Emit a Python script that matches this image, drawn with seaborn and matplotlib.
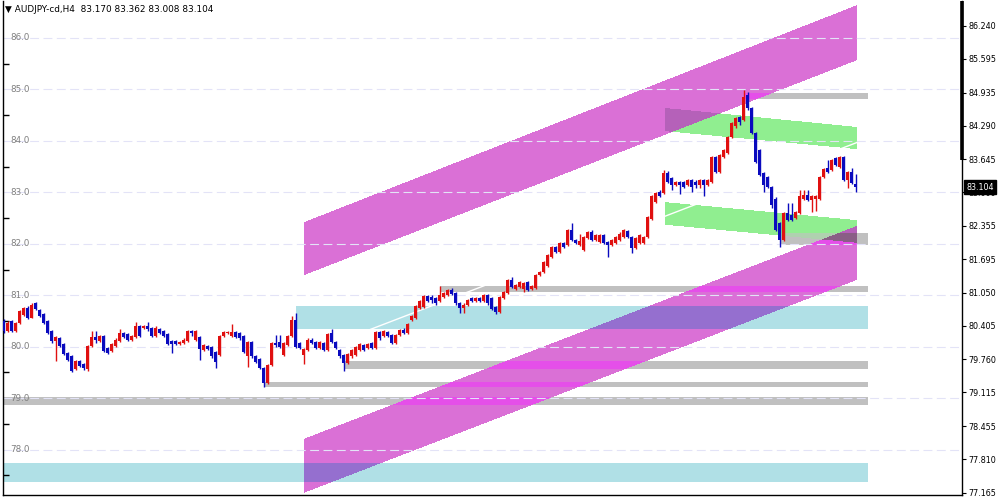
import numpy as np
import pandas as pd
import seaborn as sns
import matplotlib.pyplot as plt
import matplotlib.transforms as mtransforms
from matplotlib.path import Path

# H4 candles, bar index 0..213
opens = [
    80.50, 80.31, 80.50, 80.31, 80.47, 80.62, 80.76, 80.56, 80.84, 80.71,
    80.63, 80.50, 80.31, 80.11, 80.16, 80.05, 79.88, 79.82, 79.56, 79.72,
    79.66, 79.56, 80.01, 80.18, 80.11, 80.21, 79.98, 79.92, 80.01, 80.11,
    80.27, 80.24, 80.14, 80.18, 80.40, 80.37, 80.40, 80.37, 80.21, 80.34,
    80.30, 80.24, 80.11, 80.11, 80.05, 80.08, 80.11, 80.31, 80.14, 80.18,
    79.94, 80.02, 80.00, 79.90, 79.84, 80.20, 80.26, 80.20, 80.29, 80.27,
    80.20, 79.81, 80.10, 79.81, 79.77, 79.58, 79.29, 79.64, 80.08, 80.10,
    79.84, 80.03, 80.20, 80.51, 80.07, 79.84, 79.94, 80.14, 80.10, 79.97,
    80.07, 79.94, 80.26, 80.10, 79.94, 79.84, 79.68, 79.81, 79.84, 79.94,
    80.03, 79.97, 80.08, 79.97, 80.29, 80.20, 80.29, 80.23, 80.07, 80.23,
    80.32, 80.26, 80.52, 80.55, 80.75, 80.77, 80.99, 80.97, 80.94, 80.88,
    80.97, 81.00, 81.11, 81.05, 80.84, 80.75, 80.81, 80.94, 80.88, 80.94,
    80.88, 81.00, 80.94, 80.78, 80.68, 80.94, 81.04, 81.30, 81.13, 81.17,
    81.13, 81.26, 81.12, 81.15, 81.39, 81.46, 81.56, 81.75, 81.94, 81.85,
    82.01, 81.98, 82.27, 82.07, 81.98, 81.88, 82.11, 82.22, 82.07, 82.04,
    82.17, 82.04, 81.98, 82.01, 82.07, 82.14, 82.24, 82.14, 81.91, 82.01,
    82.01, 82.14, 82.49, 82.82, 83.01, 82.98, 83.37, 83.27, 83.14, 83.21,
    83.21, 83.14, 83.24, 83.21, 83.14, 83.24, 83.14, 83.21, 83.69, 83.40,
    83.69, 83.76, 84.08, 84.28, 84.47, 84.41, 84.89, 84.63, 84.15, 83.82,
    83.37, 83.30, 83.11, 82.88, 82.40, 82.07, 82.59, 82.56, 82.50, 82.59,
    82.88, 82.94, 82.85, 82.88, 82.88, 83.30, 83.48, 83.43, 83.66, 83.50,
    83.69, 83.24, 83.40, 83.170,
]
closes = [
    80.31, 80.47, 80.31, 80.47, 80.69, 80.76, 80.56, 80.82, 80.73, 80.60,
    80.47, 80.27, 80.11, 80.18, 80.01, 79.85, 79.75, 79.53, 79.72, 79.62,
    79.59, 80.01, 80.18, 80.14, 80.21, 79.92, 79.88, 80.05, 80.14, 80.27,
    80.18, 80.14, 80.21, 80.40, 80.21, 80.40, 80.34, 80.21, 80.37, 80.27,
    80.21, 80.05, 80.05, 80.05, 80.09, 80.14, 80.31, 80.27, 80.31, 79.95,
    80.03, 79.95, 79.81, 79.71, 80.20, 80.29, 80.29, 80.29, 80.18, 80.16,
    79.90, 80.10, 79.81, 79.71, 79.58, 79.29, 79.64, 80.07, 80.03, 80.00,
    80.07, 80.20, 80.51, 80.00, 79.97, 79.95, 80.14, 80.07, 79.97, 80.10,
    79.94, 80.24, 80.10, 79.97, 79.81, 79.68, 79.86, 79.94, 80.00, 80.05,
    79.94, 80.05, 79.97, 80.29, 80.16, 80.31, 80.20, 80.07, 80.23, 80.32,
    80.26, 80.45, 80.60, 80.79, 80.88, 80.99, 80.88, 80.91, 80.84, 81.00,
    81.05, 81.11, 81.02, 80.84, 80.75, 80.82, 80.91, 80.88, 80.94, 80.88,
    81.00, 80.84, 80.73, 80.68, 80.96, 81.07, 81.30, 81.17, 81.20, 81.26,
    81.24, 81.10, 81.18, 81.39, 81.46, 81.65, 81.78, 81.94, 81.85, 82.01,
    81.94, 82.27, 82.07, 82.01, 82.05, 82.14, 82.22, 82.07, 82.17, 82.17,
    82.01, 81.98, 82.07, 82.14, 82.20, 82.27, 82.14, 81.91, 82.11, 82.17,
    82.14, 82.53, 82.92, 82.98, 82.92, 83.37, 83.21, 83.14, 83.21, 83.14,
    83.11, 83.24, 83.11, 83.14, 83.24, 83.14, 83.24, 83.69, 83.40, 83.72,
    83.82, 84.08, 84.34, 84.44, 84.37, 84.86, 84.63, 84.15, 83.59, 83.34,
    83.14, 83.11, 82.75, 82.27, 82.07, 82.59, 82.46, 82.46, 82.62, 82.92,
    82.94, 82.85, 82.92, 82.92, 83.30, 83.46, 83.40, 83.63, 83.53, 83.69,
    83.24, 83.40, 83.18, 83.104,
]
highs = [
    80.53, 80.50, 80.52, 80.49, 80.71, 80.78, 80.79, 80.84, 80.87, 80.73,
    80.65, 80.52, 80.33, 80.20, 80.18, 80.07, 79.90, 79.84, 79.74, 79.74,
    79.68, 80.03, 80.31, 80.31, 80.23, 80.23, 80.00, 80.07, 80.16, 80.35,
    80.29, 80.26, 80.23, 80.48, 80.42, 80.43, 80.48, 80.39, 80.40, 80.36,
    80.32, 80.26, 80.13, 80.13, 80.11, 80.16, 80.33, 80.33, 80.33, 80.20,
    80.05, 80.04, 80.02, 79.92, 80.22, 80.31, 80.31, 80.44, 80.31, 80.29,
    80.22, 80.12, 80.12, 79.83, 79.79, 79.60, 79.66, 80.09, 80.23, 80.23,
    80.09, 80.22, 80.60, 80.66, 80.09, 79.97, 80.16, 80.16, 80.12, 80.12,
    80.09, 80.26, 80.34, 80.12, 79.96, 79.86, 79.88, 79.96, 80.02, 80.07,
    80.05, 80.07, 80.10, 80.31, 80.31, 80.33, 80.31, 80.25, 80.25, 80.35,
    80.36, 80.47, 80.62, 80.81, 80.90, 81.01, 81.01, 81.00, 80.96, 81.18,
    81.07, 81.13, 81.15, 81.07, 80.86, 80.84, 80.93, 80.96, 80.96, 80.96,
    81.02, 81.02, 80.96, 80.80, 80.98, 81.09, 81.32, 81.36, 81.22, 81.28,
    81.26, 81.28, 81.20, 81.41, 81.48, 81.67, 81.80, 81.96, 81.96, 82.03,
    82.03, 82.29, 82.40, 82.09, 82.20, 82.16, 82.24, 82.27, 82.19, 82.19,
    82.19, 82.06, 82.09, 82.16, 82.22, 82.29, 82.26, 82.16, 82.13, 82.19,
    82.16, 82.55, 82.94, 83.00, 83.05, 83.43, 83.42, 83.29, 83.23, 83.23,
    83.23, 83.26, 83.26, 83.24, 83.26, 83.26, 83.26, 83.71, 83.71, 83.74,
    83.84, 84.10, 84.36, 84.46, 84.49, 84.99, 84.95, 84.65, 84.17, 83.84,
    83.39, 83.32, 83.13, 82.90, 82.42, 82.61, 82.79, 82.79, 82.64, 83.05,
    83.05, 83.05, 82.94, 82.94, 83.32, 83.48, 83.63, 83.65, 83.68, 83.71,
    83.71, 83.42, 83.48, 83.362,
]
lows = [
    80.27, 80.28, 80.28, 80.29, 80.45, 80.60, 80.54, 80.55, 80.71, 80.58,
    80.45, 80.25, 80.08, 79.72, 79.99, 79.83, 79.73, 79.50, 79.54, 79.60,
    79.55, 79.52, 79.99, 80.08, 80.09, 79.90, 79.85, 79.90, 79.99, 80.09,
    80.16, 80.12, 80.12, 80.16, 80.19, 80.35, 80.30, 80.19, 80.19, 80.25,
    80.19, 80.03, 79.88, 80.03, 80.03, 80.06, 80.09, 80.20, 80.12, 79.75,
    79.92, 79.93, 79.79, 79.58, 79.82, 80.18, 80.24, 80.18, 80.16, 80.14,
    79.88, 79.61, 79.79, 79.69, 79.56, 79.21, 79.27, 79.62, 80.00, 79.98,
    79.82, 80.01, 80.18, 79.98, 79.95, 79.66, 79.92, 80.05, 79.95, 79.95,
    79.92, 79.92, 80.08, 79.95, 79.79, 79.53, 79.66, 79.79, 79.82, 79.92,
    79.92, 79.95, 79.95, 79.95, 80.14, 80.18, 80.18, 80.05, 80.05, 80.21,
    80.24, 80.24, 80.50, 80.53, 80.73, 80.75, 80.86, 80.84, 80.82, 80.86,
    80.95, 80.98, 81.00, 80.82, 80.66, 80.65, 80.79, 80.86, 80.86, 80.86,
    80.86, 80.82, 80.71, 80.64, 80.66, 80.92, 81.02, 81.15, 81.11, 81.15,
    81.07, 81.08, 81.10, 81.13, 81.37, 81.44, 81.54, 81.73, 81.83, 81.83,
    81.92, 81.96, 82.05, 81.99, 81.96, 81.86, 82.09, 82.05, 82.05, 82.02,
    81.99, 81.75, 81.96, 81.99, 82.05, 82.12, 82.12, 81.82, 81.89, 81.99,
    81.99, 82.12, 82.47, 82.80, 82.90, 82.96, 83.19, 83.05, 83.12, 82.97,
    83.09, 83.12, 83.00, 83.09, 83.09, 82.92, 83.12, 83.19, 83.38, 83.38,
    83.67, 83.74, 84.06, 84.26, 84.30, 84.39, 84.61, 84.13, 83.57, 83.32,
    83.01, 83.09, 82.69, 82.25, 81.94, 82.05, 82.44, 82.44, 82.48, 82.57,
    82.86, 82.83, 82.62, 82.64, 82.86, 83.28, 83.38, 83.41, 83.51, 83.48,
    83.22, 83.08, 83.16, 83.008,
]

header = "\u25bc AUDJPY-cd,H4  83.170 83.362 83.008 83.104"
last_price = 83.104
grid_levels = [78.0, 79.0, 80.0, 81.0, 82.0, 83.0, 84.0, 85.0, 86.0]
half_levels = [77.5, 78.5, 79.5, 80.5, 81.5, 82.5, 83.5, 84.5, 85.5]
right_ticks = [86.240, 85.595, 84.935, 84.290, 83.645, 83.000, 82.355, 81.695,
               81.050, 80.405, 79.760, 79.115, 78.455, 77.810, 77.165]

# drawn objects, corners as (bar index, price)
channel_upper = [(75.1, 82.42), (213.4, 86.64), (213.4, 85.57), (75.1, 81.39)]
channel_lower = [(75.1, 78.21), (213.4, 82.35), (213.4, 81.30), (75.1, 77.16)]
green_upper = [(165.4, 84.64), (213.4, 84.27), (213.4, 83.84), (165.4, 84.19)]
green_lower = [(165.4, 82.81), (213.4, 82.46), (213.4, 82.02), (165.4, 82.37)]
# (start bar, end bar, top price, bottom price)
gray_boxes = [(185.4, 216.1, 84.93, 84.81), (194.1, 216.1, 82.21, 81.98),
              (109.1, 216.1, 81.18, 81.06), (85.4, 216.1, 79.72, 79.57),
              (65.4, 216.1, 79.31, 79.22), (-1.0, 216.1, 79.02, 78.87)]
cyan_boxes = [(73.1, 216.1, 80.80, 80.35), (-1.0, 216.1, 77.74, 77.37)]
trend_line = [(74.1, 79.81), (213.4, 83.97)]

ORCHID = (218, 112, 214)
GREEN = (144, 238, 144)
SILVER = (192, 192, 192)
CYAN = (176, 224, 230)
BULL = "#E01010"
BEAR = "#0A0ABE"

xlim = (-0.125, 239.625)
ylim = (77.118, 86.719)

sns.set_style("white")
plt.rcParams['font.family'] = ['DejaVu Sans']

fig = plt.figure(figsize=(10, 5), dpi=100)
ax = fig.add_axes([0.003, 0.01, 0.959, 0.988])


def box(b):
    x0, x1, top, bot = b
    return [(x0, top), (x1, top), (x1, bot), (x0, bot)]


shapes = [(channel_upper, ORCHID), (channel_lower, ORCHID),
          (green_upper, GREEN), (green_lower, GREEN)]
shapes += [(box(b), SILVER) for b in gray_boxes]
shapes += [(box(b), CYAN) for b in cyan_boxes]

# MT4 fills overlap with a not-xor pen, so build them as one layer
W, H = 959, 494
xs = xlim[0] + (np.arange(W) + 0.5) * (xlim[1] - xlim[0]) / W
ys = ylim[0] + (np.arange(H) + 0.5) * (ylim[1] - ylim[0]) / H
gx, gy = np.meshgrid(xs, ys)
pts = np.column_stack([gx.ravel(), gy.ravel()])
layer = np.full((H * W, 3), 255, dtype=np.uint8)
for poly, rgb in shapes:
    inside = Path(poly).contains_points(pts)
    layer[inside] ^= (255 - np.array(rgb, dtype=np.uint8))
ax.imshow(layer.reshape(H, W, 3), extent=(*xlim, *ylim), origin='lower',
          aspect='auto', interpolation='nearest', zorder=0)

tx, ty = zip(*trend_line)
ax.plot(tx, ty, color='white', lw=1, zorder=1)

for lv in grid_levels:
    ax.axhline(lv, color='#E3E3F7', lw=0.8, ls=(0, (8, 4)), zorder=1.5)

df = pd.DataFrame({'o': opens, 'h': highs, 'l': lows, 'c': closes})
df['i'] = np.arange(len(df))
cols = np.where(df['c'] >= df['o'], BULL, BEAR)
ax.vlines(df['i'], df['l'], df['h'], colors=cols, lw=1, zorder=3)
body = (df['c'] - df['o']).abs().clip(lower=0.012)
ax.bar(df['i'], body, bottom=np.minimum(df['o'], df['c']), width=0.72,
       color=cols, lw=0, zorder=4)

ax.set_xlim(*xlim)
ax.set_ylim(*ylim)
ax.set_xticks([])
ax.set_yticks(half_levels)
ax.set_yticklabels([])
ax.tick_params(axis='y', direction='in', length=4, width=1, color='black', left=True)
for side in ['top', 'right']:
    ax.spines[side].set_visible(False)
for side in ['left', 'bottom']:
    ax.spines[side].set_color('black')
    ax.spines[side].set_linewidth(1)

lab = mtransforms.blended_transform_factory(ax.transAxes, ax.transData)
for lv in grid_levels:
    ax.text(0.008, lv, f"{lv:.1f}", transform=lab, ha='left', va='center',
            fontsize=6.3, color='#7E7E7E', zorder=5)

ax2 = ax.twinx()
ax2.set_ylim(*ylim)
ax2.set_yticks(right_ticks)
ax2.set_yticklabels([f"{v:.3f}" for v in right_ticks])
ax2.tick_params(axis='y', direction='out', length=3, width=0.8, pad=1.5,
                labelsize=5.8, colors='black')
for side in ['top', 'left', 'bottom']:
    ax2.spines[side].set_visible(False)
ax2.spines['right'].set_color('black')
ax2.spines['right'].set_linewidth(1)
edge = mtransforms.blended_transform_factory(ax2.transAxes, ax2.transData)
ax2.plot([1, 1], [83.63, ylim[1]], transform=edge, color='black', lw=2.6,
         clip_on=False, solid_capstyle='butt')
ax2.annotate(f"{last_price:.3f}", xy=(1, last_price), xycoords=edge,
             xytext=(3, 0), textcoords='offset points', ha='left', va='center',
             fontsize=5.8, color='white',
             bbox=dict(boxstyle='square,pad=0.3', fc='black', ec='black'))

fig.text(0.005, 1 - 10 / 500, header, ha='left', va='center', fontsize=6.4,
         color='black')

fig.savefig("out.png", dpi=100)
